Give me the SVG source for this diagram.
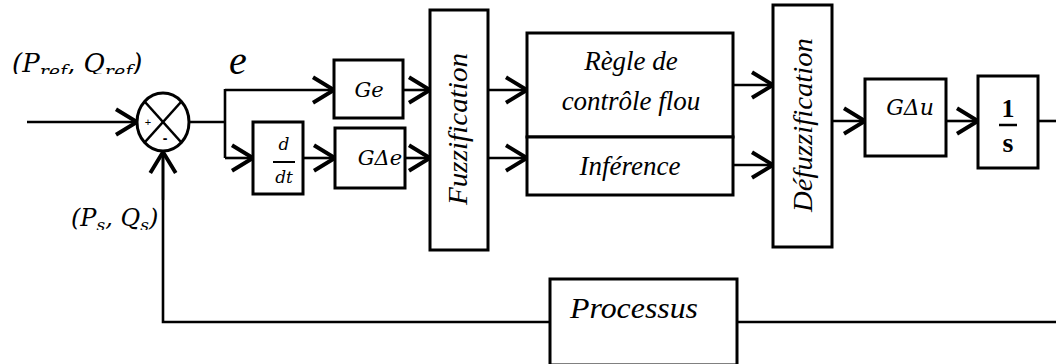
<svg xmlns="http://www.w3.org/2000/svg" width="1056" height="364" viewBox="0 0 1056 364">
<style>
.box{fill:#fff;stroke:#000;stroke-width:3}
.ln{fill:none;stroke:#000;stroke-width:2.6}
.arr{fill:none;stroke:#000;stroke-width:2.6;marker-end:url(#ah)}
.tm{font-family:"Liberation Serif",serif;font-style:italic;fill:#000}
.mt{font-family:"DejaVu Serif","Liberation Serif",serif;font-style:italic;fill:#000}
</style>
<defs>
<marker id="ah" markerUnits="userSpaceOnUse" markerWidth="30" markerHeight="30" viewBox="-16 -10 18 20" refX="0" refY="0" orient="auto">
<path d="M-14,-8.5 L0,0 L-14,8.5" fill="none" stroke="#000" stroke-width="2.6"/>
</marker>
<clipPath id="c1"><rect x="0" y="40" width="200" height="34"/></clipPath>
<clipPath id="c2"><rect x="60" y="195" width="98" height="35"/></clipPath>
</defs>
<rect width="1056" height="364" fill="#fff"/>
<g id="connectors">
<line class="arr" x1="27" y1="122" x2="137" y2="122"/>
<polyline class="ln" points="189,122 225,122"/>
<polyline class="ln" points="225,89 225,158"/>
<line class="arr" x1="225" y1="90" x2="334" y2="90"/>
<line class="arr" x1="225" y1="158" x2="253" y2="158"/>
<line class="arr" x1="303" y1="158" x2="335" y2="158"/>
<line class="arr" x1="403" y1="90" x2="430" y2="90"/>
<line class="arr" x1="405" y1="158" x2="430" y2="158"/>
<line class="arr" x1="488" y1="90" x2="527" y2="90"/>
<line class="arr" x1="488" y1="158" x2="527" y2="158"/>
<line class="arr" x1="733" y1="85" x2="773" y2="85"/>
<line class="arr" x1="733" y1="165" x2="773" y2="165"/>
<line class="arr" x1="832" y1="121" x2="865" y2="121"/>
<line class="arr" x1="946" y1="121" x2="978" y2="121"/>
<line class="ln" x1="1038" y1="121" x2="1056" y2="121"/>
<line class="ln" x1="1056" y1="322" x2="737" y2="322"/>
<polyline class="ln" points="550,322 163,322 163,153"/>
<line class="arr" x1="163" y1="200" x2="163" y2="152"/>
</g>
<g id="sum">
<ellipse cx="163" cy="122" rx="26" ry="29" fill="#fff" stroke="#000" stroke-width="3"/>
<line class="ln" x1="144.6" y1="101.5" x2="181.4" y2="142.5"/>
<line class="ln" x1="181.4" y1="101.5" x2="144.6" y2="142.5"/>
<text x="148" y="126" font-family="Liberation Sans,sans-serif" font-size="11" text-anchor="middle" fill="#000">+</text>
<text x="165" y="143" font-family="Liberation Sans,sans-serif" font-size="14" font-weight="bold" text-anchor="middle" fill="#000">-</text>
</g>
<g id="label-ref" clip-path="url(#c1)">
<text class="mt" x="12" y="72" font-size="26">(P<tspan font-size="19" dy="6">ref</tspan><tspan dy="-6">, Q</tspan><tspan font-size="19" dy="6">ref</tspan><tspan dy="-6">)</tspan></text>
</g>
<g id="label-s" clip-path="url(#c2)">
<text class="mt" x="71" y="226" font-size="24">(P<tspan font-size="17" dy="5">s</tspan><tspan dy="-5">, Q</tspan><tspan font-size="17" dy="5">s</tspan><tspan dy="-5">)</tspan></text>
</g>
<g id="label-e">
<text class="tm" x="229" y="74" font-size="40">e</text>
</g>
<g id="ge">
<rect class="box" x="334" y="60" width="69" height="58"/>
<text class="mt" x="369" y="97" font-size="21" text-anchor="middle">Ge</text>
</g>
<g id="ddt">
<rect class="box" x="253" y="122" width="50" height="72" stroke-width="2.4"/>
<text class="mt" x="284" y="150" font-size="17" text-anchor="middle">d</text>
<line x1="273" y1="162" x2="295" y2="162" stroke="#000" stroke-width="2"/>
<text class="mt" x="284" y="183" font-size="17" text-anchor="middle">dt</text>
</g>
<g id="gde">
<rect class="box" x="335" y="128" width="70" height="60"/>
<text class="mt" x="380" y="165" font-size="21" text-anchor="middle">GΔe</text>
</g>
<g id="fuzz">
<rect class="box" x="430" y="10" width="58" height="240"/>
<text class="tm" transform="translate(467,129) rotate(-90)" font-size="27" text-anchor="middle" textLength="152" lengthAdjust="spacingAndGlyphs">Fuzzification</text>
</g>
<g id="regle">
<rect class="box" x="527" y="33" width="206" height="104"/>
<text class="tm" x="631" y="70" font-size="27" text-anchor="middle">Règle de</text>
<text class="tm" x="631" y="110" font-size="27" text-anchor="middle">contrôle flou</text>
</g>
<g id="inference">
<rect class="box" x="527" y="137" width="206" height="58"/>
<text class="tm" x="630" y="175" font-size="27" text-anchor="middle">Inférence</text>
</g>
<g id="defuzz">
<rect class="box" x="773" y="5" width="59" height="242"/>
<text class="tm" transform="translate(812,125) rotate(-90)" font-size="27" text-anchor="middle" textLength="174" lengthAdjust="spacingAndGlyphs">Défuzzification</text>
</g>
<g id="gdu">
<rect class="box" x="865" y="79" width="81" height="77"/>
<text class="mt" x="910" y="115" font-size="22" text-anchor="middle">GΔu</text>
</g>
<g id="integ">
<rect class="box" x="978" y="76" width="60" height="92"/>
<text x="1008" y="117" font-family="Liberation Serif,serif" font-weight="bold" font-size="26" text-anchor="middle" fill="#000">1</text>
<line x1="999" y1="125" x2="1017" y2="125" stroke="#000" stroke-width="2.5"/>
<text x="1008" y="152" font-family="Liberation Serif,serif" font-weight="bold" font-size="28" text-anchor="middle" fill="#000">s</text>
</g>
<g id="processus">
<rect class="box" x="550" y="279" width="187" height="86"/>
<text class="tm" x="634" y="318" font-size="29" text-anchor="middle" textLength="128" lengthAdjust="spacingAndGlyphs">Processus</text>
</g>
</svg>
